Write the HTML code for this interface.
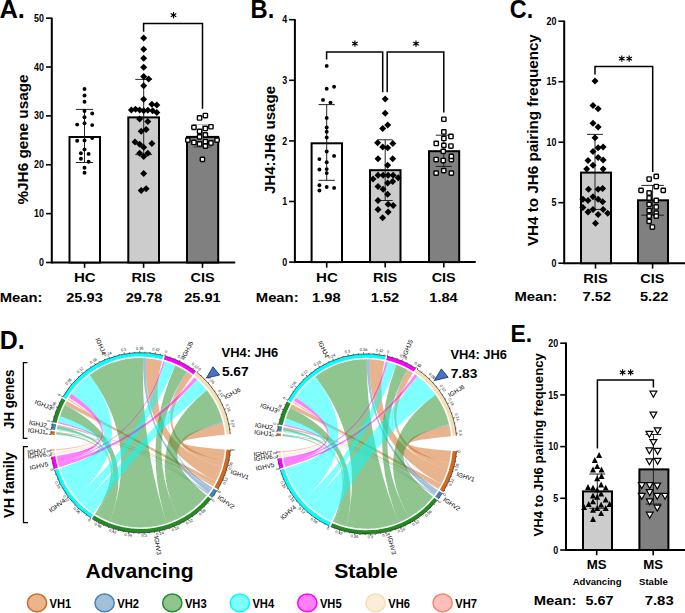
<!DOCTYPE html>
<html><head><meta charset="utf-8"><style>
html,body{margin:0;padding:0;background:#fff;}
svg{display:block;}
text{font-family:"Liberation Sans", sans-serif;font-weight:bold;}
.n{font-weight:normal;}
</style></head><body>
<svg width="685" height="613" viewBox="0 0 685 613">
<rect width="685" height="613" fill="#fff"/>
<text x="-0.60" y="17.80" font-size="25" text-anchor="start" textLength="25.5" lengthAdjust="spacingAndGlyphs">A.</text>
<line x1="51.80" y1="17.60" x2="51.80" y2="263.50" stroke="#000" stroke-width="2.0"/><line x1="46.00" y1="262.50" x2="51.80" y2="262.50" stroke="#000" stroke-width="1.6"/><text x="44.00" y="266.10" font-size="10" text-anchor="end" textLength="4.95" lengthAdjust="spacingAndGlyphs">0</text><line x1="46.00" y1="213.63" x2="51.80" y2="213.63" stroke="#000" stroke-width="1.6"/><text x="44.00" y="217.23" font-size="10" text-anchor="end" textLength="9.9" lengthAdjust="spacingAndGlyphs">10</text><line x1="46.00" y1="164.76" x2="51.80" y2="164.76" stroke="#000" stroke-width="1.6"/><text x="44.00" y="168.36" font-size="10" text-anchor="end" textLength="9.9" lengthAdjust="spacingAndGlyphs">20</text><line x1="46.00" y1="115.89" x2="51.80" y2="115.89" stroke="#000" stroke-width="1.6"/><text x="44.00" y="119.49" font-size="10" text-anchor="end" textLength="9.9" lengthAdjust="spacingAndGlyphs">30</text><line x1="46.00" y1="67.02" x2="51.80" y2="67.02" stroke="#000" stroke-width="1.6"/><text x="44.00" y="70.62" font-size="10" text-anchor="end" textLength="9.9" lengthAdjust="spacingAndGlyphs">40</text><line x1="46.00" y1="18.15" x2="51.80" y2="18.15" stroke="#000" stroke-width="1.6"/><text x="44.00" y="21.75" font-size="10" text-anchor="end" textLength="9.9" lengthAdjust="spacingAndGlyphs">50</text>
<line x1="51.80" y1="262.50" x2="235.20" y2="262.50" stroke="#000" stroke-width="2.0"/>
<line x1="84.60" y1="262.50" x2="84.60" y2="267.80" stroke="#000" stroke-width="1.6"/>
<line x1="143.60" y1="262.50" x2="143.60" y2="267.80" stroke="#000" stroke-width="1.6"/>
<line x1="202.50" y1="262.50" x2="202.50" y2="267.80" stroke="#000" stroke-width="1.6"/>
<text x="27.50" y="139.50" font-size="15" text-anchor="middle" textLength="130" lengthAdjust="spacingAndGlyphs" transform="rotate(-90 27.50 139.50)">%JH6 gene usage</text>
<rect x="69.50" y="137.00" width="30.50" height="125.50" fill="#fff" stroke="#000" stroke-width="2.0"/>
<rect x="128.30" y="117.40" width="30.70" height="145.10" fill="#cccccc" stroke="#000" stroke-width="2.0"/>
<rect x="187.00" y="136.90" width="31.20" height="125.60" fill="#808080" stroke="#000" stroke-width="2.0"/>
<line x1="84.50" y1="109.40" x2="84.50" y2="162.50" stroke="#1a1a1a" stroke-width="0.95"/><line x1="75.90" y1="109.40" x2="93.10" y2="109.40" stroke="#1a1a1a" stroke-width="0.95"/><line x1="75.90" y1="162.50" x2="93.10" y2="162.50" stroke="#1a1a1a" stroke-width="0.95"/>
<circle cx="84.5" cy="89.0" r="1.95"/>
<circle cx="84.5" cy="95.5" r="1.95"/>
<circle cx="84.5" cy="101.7" r="1.95"/>
<circle cx="84.5" cy="111.0" r="1.95"/>
<circle cx="92.2" cy="113.5" r="1.95"/>
<circle cx="84.5" cy="117.3" r="1.95"/>
<circle cx="77.2" cy="124.6" r="1.95"/>
<circle cx="84.5" cy="123.3" r="1.95"/>
<circle cx="92.2" cy="125.1" r="1.95"/>
<circle cx="92.2" cy="138.0" r="1.95"/>
<circle cx="77.2" cy="140.8" r="1.95"/>
<circle cx="84.5" cy="140.5" r="1.95"/>
<circle cx="84.5" cy="149.4" r="1.95"/>
<circle cx="80.9" cy="153.2" r="1.95"/>
<circle cx="88.6" cy="153.9" r="1.95"/>
<circle cx="80.9" cy="158.8" r="1.95"/>
<circle cx="88.6" cy="161.7" r="1.95"/>
<circle cx="84.5" cy="167.7" r="1.95"/>
<circle cx="84.5" cy="172.8" r="1.95"/>
<line x1="143.70" y1="79.40" x2="143.70" y2="154.60" stroke="#1a1a1a" stroke-width="0.95"/><line x1="135.30" y1="79.40" x2="152.10" y2="79.40" stroke="#1a1a1a" stroke-width="0.95"/><line x1="135.30" y1="154.60" x2="152.10" y2="154.60" stroke="#1a1a1a" stroke-width="0.95"/>
<path d="M143.7 34.6L147.2 38.1L143.7 41.6L140.2 38.1Z"/>
<path d="M143.7 45.7L147.2 49.2L143.7 52.7L140.2 49.2Z"/>
<path d="M143.7 54.7L147.2 58.2L143.7 61.7L140.2 58.2Z"/>
<path d="M143.7 63.7L147.2 67.2L143.7 70.7L140.2 67.2Z"/>
<path d="M143.7 73.0L147.2 76.5L143.7 80.0L140.2 76.5Z"/>
<path d="M148.6 75.4L152.1 78.9L148.6 82.4L145.1 78.9Z"/>
<path d="M143.7 82.3L147.2 85.8L143.7 89.3L140.2 85.8Z"/>
<path d="M143.7 95.8L147.2 99.3L143.7 102.8L140.2 99.3Z"/>
<path d="M151.9 100.7L155.4 104.2L151.9 107.7L148.4 104.2Z"/>
<path d="M156.8 101.5L160.3 105.0L156.8 108.5L153.3 105.0Z"/>
<path d="M131.4 106.5L134.9 110.0L131.4 113.5L127.9 110.0Z"/>
<path d="M135.5 105.7L139.0 109.2L135.5 112.7L132.0 109.2Z"/>
<path d="M139.6 106.5L143.1 110.0L139.6 113.5L136.1 110.0Z"/>
<path d="M143.7 107.3L147.2 110.8L143.7 114.3L140.2 110.8Z"/>
<path d="M147.8 106.8L151.3 110.3L147.8 113.8L144.3 110.3Z"/>
<path d="M152.7 107.3L156.2 110.8L152.7 114.3L149.2 110.8Z"/>
<path d="M156.8 108.9L160.3 112.4L156.8 115.9L153.3 112.4Z"/>
<path d="M139.6 115.5L143.1 119.0L139.6 122.5L136.1 119.0Z"/>
<path d="M147.8 117.9L151.3 121.4L147.8 124.9L144.3 121.4Z"/>
<path d="M141.2 127.7L144.7 131.2L141.2 134.7L137.7 131.2Z"/>
<path d="M146.1 126.1L149.6 129.6L146.1 133.1L142.6 129.6Z"/>
<path d="M135.0 138.4L138.5 141.9L135.0 145.4L131.5 141.9Z"/>
<path d="M139.6 140.8L143.1 144.3L139.6 147.8L136.1 144.3Z"/>
<path d="M143.7 143.8L147.2 147.3L143.7 150.8L140.2 147.3Z"/>
<path d="M151.9 140.0L155.4 143.5L151.9 147.0L148.4 143.5Z"/>
<path d="M139.6 149.8L143.1 153.3L139.6 156.8L136.1 153.3Z"/>
<path d="M143.7 153.1L147.2 156.6L143.7 160.1L140.2 156.6Z"/>
<path d="M147.8 149.8L151.3 153.3L147.8 156.8L144.3 153.3Z"/>
<path d="M143.7 169.9L147.2 173.4L143.7 176.9L140.2 173.4Z"/>
<path d="M141.2 186.9L144.7 190.4L141.2 193.9L137.7 190.4Z"/>
<path d="M146.1 185.3L149.6 188.8L146.1 192.3L142.6 188.8Z"/>
<line x1="202.50" y1="124.50" x2="202.50" y2="147.00" stroke="#999" stroke-width="0.9"/><line x1="193.50" y1="124.50" x2="211.50" y2="124.50" stroke="#bbb" stroke-width="0.9"/><line x1="193.50" y1="147.00" x2="211.50" y2="147.00" stroke="#333" stroke-width="0.9"/>
<rect x="197.4" y="115.8" width="4.3" height="4.3" rx="0.7" fill="#fff" stroke="#000" stroke-width="1.4"/>
<rect x="203.2" y="113.4" width="4.3" height="4.3" rx="0.7" fill="#fff" stroke="#000" stroke-width="1.4"/>
<rect x="191.8" y="125.2" width="4.3" height="4.3" rx="0.7" fill="#fff" stroke="#000" stroke-width="1.4"/>
<rect x="203.2" y="126.3" width="4.3" height="4.3" rx="0.7" fill="#fff" stroke="#000" stroke-width="1.4"/>
<rect x="208.8" y="124.6" width="4.3" height="4.3" rx="0.7" fill="#fff" stroke="#000" stroke-width="1.4"/>
<rect x="197.4" y="129.2" width="4.3" height="4.3" rx="0.7" fill="#fff" stroke="#000" stroke-width="1.4"/>
<rect x="197.4" y="134.7" width="4.3" height="4.3" rx="0.7" fill="#fff" stroke="#000" stroke-width="1.4"/>
<rect x="203.2" y="132.7" width="4.3" height="4.3" rx="0.7" fill="#fff" stroke="#000" stroke-width="1.4"/>
<rect x="185.7" y="138.0" width="4.3" height="4.3" rx="0.7" fill="#fff" stroke="#000" stroke-width="1.4"/>
<rect x="191.8" y="140.3" width="4.3" height="4.3" rx="0.7" fill="#fff" stroke="#000" stroke-width="1.4"/>
<rect x="197.4" y="141.8" width="4.3" height="4.3" rx="0.7" fill="#fff" stroke="#000" stroke-width="1.4"/>
<rect x="203.2" y="139.5" width="4.3" height="4.3" rx="0.7" fill="#fff" stroke="#000" stroke-width="1.4"/>
<rect x="203.2" y="144.0" width="4.3" height="4.3" rx="0.7" fill="#fff" stroke="#000" stroke-width="1.4"/>
<rect x="208.8" y="140.8" width="4.3" height="4.3" rx="0.7" fill="#fff" stroke="#000" stroke-width="1.4"/>
<rect x="214.9" y="138.0" width="4.3" height="4.3" rx="0.7" fill="#fff" stroke="#000" stroke-width="1.4"/>
<rect x="200.3" y="157.2" width="4.3" height="4.3" rx="0.7" fill="#fff" stroke="#000" stroke-width="1.4"/>
<path d="M143.6 31.8V23.6H202.5V108.7" fill="none" stroke="#000" stroke-width="1.5"/>
<line x1="173.50" y1="12.00" x2="173.50" y2="18.40" stroke="#000" stroke-width="1.15"/><line x1="170.73" y1="13.60" x2="176.27" y2="16.80" stroke="#000" stroke-width="1.15"/><line x1="176.27" y1="13.60" x2="170.73" y2="16.80" stroke="#000" stroke-width="1.15"/><circle cx="173.50" cy="15.20" r="1.1"/>
<text x="84.80" y="282.20" font-size="13" text-anchor="middle" textLength="21.808999999999997" lengthAdjust="spacingAndGlyphs">HC</text>
<text x="143.60" y="282.20" font-size="13" text-anchor="middle" textLength="24.294999999999998" lengthAdjust="spacingAndGlyphs">RIS</text>
<text x="202.60" y="282.20" font-size="13" text-anchor="middle" textLength="24.069" lengthAdjust="spacingAndGlyphs">CIS</text>
<text x="-0.30" y="302.30" font-size="13.5" text-anchor="start" textLength="42.8" lengthAdjust="spacingAndGlyphs">Mean:</text>
<text x="84.50" y="302.30" font-size="13.5" text-anchor="middle" textLength="36.5" lengthAdjust="spacingAndGlyphs">25.93</text>
<text x="144.00" y="302.30" font-size="13.5" text-anchor="middle" textLength="36.5" lengthAdjust="spacingAndGlyphs">29.78</text>
<text x="202.40" y="302.30" font-size="13.5" text-anchor="middle" textLength="36.5" lengthAdjust="spacingAndGlyphs">25.91</text>
<text x="250.60" y="17.80" font-size="25" text-anchor="start" textLength="23.7" lengthAdjust="spacingAndGlyphs">B.</text>
<line x1="294.90" y1="19.20" x2="294.90" y2="263.10" stroke="#000" stroke-width="2.0"/><line x1="289.10" y1="262.10" x2="294.90" y2="262.10" stroke="#000" stroke-width="1.6"/><text x="287.10" y="265.70" font-size="10" text-anchor="end" textLength="4.95" lengthAdjust="spacingAndGlyphs">0</text><line x1="289.10" y1="201.50" x2="294.90" y2="201.50" stroke="#000" stroke-width="1.6"/><text x="287.10" y="205.10" font-size="10" text-anchor="end" textLength="4.95" lengthAdjust="spacingAndGlyphs">1</text><line x1="289.10" y1="140.90" x2="294.90" y2="140.90" stroke="#000" stroke-width="1.6"/><text x="287.10" y="144.50" font-size="10" text-anchor="end" textLength="4.95" lengthAdjust="spacingAndGlyphs">2</text><line x1="289.10" y1="80.30" x2="294.90" y2="80.30" stroke="#000" stroke-width="1.6"/><text x="287.10" y="83.90" font-size="10" text-anchor="end" textLength="4.95" lengthAdjust="spacingAndGlyphs">3</text><line x1="289.10" y1="19.70" x2="294.90" y2="19.70" stroke="#000" stroke-width="1.6"/><text x="287.10" y="23.30" font-size="10" text-anchor="end" textLength="4.95" lengthAdjust="spacingAndGlyphs">4</text>
<line x1="294.90" y1="262.10" x2="475.70" y2="262.10" stroke="#000" stroke-width="2.0"/>
<line x1="326.70" y1="262.10" x2="326.70" y2="267.60" stroke="#000" stroke-width="1.6"/>
<line x1="385.20" y1="262.10" x2="385.20" y2="267.60" stroke="#000" stroke-width="1.6"/>
<line x1="443.80" y1="262.10" x2="443.80" y2="267.60" stroke="#000" stroke-width="1.6"/>
<text x="275.30" y="140.00" font-size="15" text-anchor="middle" textLength="108.1" lengthAdjust="spacingAndGlyphs" transform="rotate(-90 275.30 140.00)">JH4:JH6 usage</text>
<rect x="311.60" y="143.30" width="30.40" height="118.80" fill="#fff" stroke="#000" stroke-width="2.0"/>
<rect x="370.00" y="170.20" width="30.50" height="91.90" fill="#cccccc" stroke="#000" stroke-width="2.0"/>
<rect x="429.00" y="151.20" width="30.20" height="110.90" fill="#808080" stroke="#000" stroke-width="2.0"/>
<line x1="326.70" y1="104.60" x2="326.70" y2="180.30" stroke="#1a1a1a" stroke-width="0.95"/><line x1="318.50" y1="104.60" x2="334.90" y2="104.60" stroke="#1a1a1a" stroke-width="0.95"/><line x1="318.50" y1="180.30" x2="334.90" y2="180.30" stroke="#1a1a1a" stroke-width="0.95"/>
<circle cx="326.7" cy="65.9" r="1.95"/>
<circle cx="326.7" cy="88.8" r="1.95"/>
<circle cx="334.1" cy="86.7" r="1.95"/>
<circle cx="323.0" cy="99.9" r="1.95"/>
<circle cx="330.5" cy="102.6" r="1.95"/>
<circle cx="326.7" cy="117.9" r="1.95"/>
<circle cx="326.7" cy="127.5" r="1.95"/>
<circle cx="326.7" cy="131.7" r="1.95"/>
<circle cx="326.7" cy="137.5" r="1.95"/>
<circle cx="326.7" cy="151.5" r="1.95"/>
<circle cx="334.1" cy="155.9" r="1.95"/>
<circle cx="319.4" cy="159.1" r="1.95"/>
<circle cx="326.7" cy="162.3" r="1.95"/>
<circle cx="319.4" cy="169.5" r="1.95"/>
<circle cx="326.7" cy="169.1" r="1.95"/>
<circle cx="326.7" cy="173.1" r="1.95"/>
<circle cx="319.4" cy="185.3" r="1.95"/>
<circle cx="319.4" cy="190.5" r="1.95"/>
<circle cx="326.7" cy="187.0" r="1.95"/>
<circle cx="334.1" cy="187.9" r="1.95"/>
<line x1="385.20" y1="139.80" x2="385.20" y2="200.50" stroke="#1a1a1a" stroke-width="0.95"/><line x1="377.70" y1="139.80" x2="392.70" y2="139.80" stroke="#1a1a1a" stroke-width="0.95"/><line x1="377.70" y1="200.50" x2="392.70" y2="200.50" stroke="#1a1a1a" stroke-width="0.95"/>
<path d="M385.2 95.6L388.7 99.1L385.2 102.6L381.7 99.1Z"/>
<path d="M385.2 109.7L388.7 113.2L385.2 116.7L381.7 113.2Z"/>
<path d="M382.7 124.9L386.2 128.4L382.7 131.9L379.2 128.4Z"/>
<path d="M387.7 121.6L391.2 125.1L387.7 128.6L384.2 125.1Z"/>
<path d="M377.6 139.3L381.1 142.8L377.6 146.3L374.1 142.8Z"/>
<path d="M382.7 143.6L386.2 147.1L382.7 150.6L379.2 147.1Z"/>
<path d="M387.7 144.3L391.2 147.8L387.7 151.3L384.2 147.8Z"/>
<path d="M392.8 140.0L396.3 143.5L392.8 147.0L389.3 143.5Z"/>
<path d="M378.0 155.3L381.5 158.8L378.0 162.3L374.5 158.8Z"/>
<path d="M392.7 155.3L396.2 158.8L392.7 162.3L389.2 158.8Z"/>
<path d="M387.6 161.7L391.1 165.2L387.6 168.7L384.1 165.2Z"/>
<path d="M373.0 175.6L376.5 179.1L373.0 182.6L369.5 179.1Z"/>
<path d="M378.0 171.8L381.5 175.3L378.0 178.8L374.5 175.3Z"/>
<path d="M383.1 171.8L386.6 175.3L383.1 178.8L379.6 175.3Z"/>
<path d="M388.1 171.8L391.6 175.3L388.1 178.8L384.6 175.3Z"/>
<path d="M393.2 171.8L396.7 175.3L393.2 178.8L389.7 175.3Z"/>
<path d="M398.2 174.3L401.7 177.8L398.2 181.3L394.7 177.8Z"/>
<path d="M378.0 183.1L381.5 186.6L378.0 190.1L374.5 186.6Z"/>
<path d="M387.6 179.4L391.1 182.9L387.6 186.4L384.1 182.9Z"/>
<path d="M392.7 178.1L396.2 181.6L392.7 185.1L389.2 181.6Z"/>
<path d="M383.1 185.7L386.6 189.2L383.1 192.7L379.6 189.2Z"/>
<path d="M387.6 190.7L391.1 194.2L387.6 197.7L384.1 194.2Z"/>
<path d="M378.0 197.0L381.5 200.5L378.0 204.0L374.5 200.5Z"/>
<path d="M388.1 200.8L391.6 204.3L388.1 207.8L384.6 204.3Z"/>
<path d="M393.2 202.1L396.7 205.6L393.2 209.1L389.7 205.6Z"/>
<path d="M378.0 205.9L381.5 209.4L378.0 212.9L374.5 209.4Z"/>
<path d="M388.1 208.4L391.6 211.9L388.1 215.4L384.6 211.9Z"/>
<path d="M382.6 214.2L386.1 217.7L382.6 221.2L379.1 217.7Z"/>
<line x1="443.80" y1="135.20" x2="443.80" y2="166.40" stroke="#1a1a1a" stroke-width="0.95"/><line x1="435.80" y1="135.20" x2="451.80" y2="135.20" stroke="#1a1a1a" stroke-width="0.95"/><line x1="435.80" y1="166.40" x2="451.80" y2="166.40" stroke="#1a1a1a" stroke-width="0.95"/>
<rect x="441.7" y="117.1" width="4.3" height="4.3" rx="0.7" fill="#fff" stroke="#000" stroke-width="1.4"/>
<rect x="441.7" y="129.8" width="4.3" height="4.3" rx="0.7" fill="#fff" stroke="#000" stroke-width="1.4"/>
<rect x="448.8" y="134.3" width="4.3" height="4.3" rx="0.7" fill="#fff" stroke="#000" stroke-width="1.4"/>
<rect x="441.7" y="136.3" width="4.3" height="4.3" rx="0.7" fill="#fff" stroke="#000" stroke-width="1.4"/>
<rect x="434.1" y="141.3" width="4.3" height="4.3" rx="0.7" fill="#fff" stroke="#000" stroke-width="1.4"/>
<rect x="441.7" y="143.2" width="4.3" height="4.3" rx="0.7" fill="#fff" stroke="#000" stroke-width="1.4"/>
<rect x="448.8" y="143.9" width="4.3" height="4.3" rx="0.7" fill="#fff" stroke="#000" stroke-width="1.4"/>
<rect x="434.0" y="157.4" width="4.3" height="4.3" rx="0.7" fill="#fff" stroke="#000" stroke-width="1.4"/>
<rect x="441.1" y="158.4" width="4.3" height="4.3" rx="0.7" fill="#fff" stroke="#000" stroke-width="1.4"/>
<rect x="449.2" y="157.4" width="4.3" height="4.3" rx="0.7" fill="#fff" stroke="#000" stroke-width="1.4"/>
<rect x="449.2" y="154.2" width="4.3" height="4.3" rx="0.7" fill="#fff" stroke="#000" stroke-width="1.4"/>
<rect x="441.1" y="149.2" width="4.3" height="4.3" rx="0.7" fill="#fff" stroke="#000" stroke-width="1.4"/>
<rect x="434.0" y="171.0" width="4.3" height="4.3" rx="0.7" fill="#fff" stroke="#000" stroke-width="1.4"/>
<rect x="441.6" y="168.5" width="4.3" height="4.3" rx="0.7" fill="#fff" stroke="#000" stroke-width="1.4"/>
<rect x="449.2" y="171.0" width="4.3" height="4.3" rx="0.7" fill="#fff" stroke="#000" stroke-width="1.4"/>
<path d="M326.6 59.4V51.9H382.7V92.2" fill="none" stroke="#000" stroke-width="1.5"/>
<path d="M387.2 92.2V51.9H443.8V112.5" fill="none" stroke="#000" stroke-width="1.5"/>
<line x1="354.90" y1="40.40" x2="354.90" y2="46.80" stroke="#000" stroke-width="1.15"/><line x1="352.13" y1="42.00" x2="357.67" y2="45.20" stroke="#000" stroke-width="1.15"/><line x1="357.67" y1="42.00" x2="352.13" y2="45.20" stroke="#000" stroke-width="1.15"/><circle cx="354.90" cy="43.60" r="1.1"/>
<line x1="416.00" y1="40.40" x2="416.00" y2="46.80" stroke="#000" stroke-width="1.15"/><line x1="413.23" y1="42.00" x2="418.77" y2="45.20" stroke="#000" stroke-width="1.15"/><line x1="418.77" y1="42.00" x2="413.23" y2="45.20" stroke="#000" stroke-width="1.15"/><circle cx="416.00" cy="43.60" r="1.1"/>
<text x="327.00" y="281.60" font-size="13" text-anchor="middle" textLength="21.808999999999997" lengthAdjust="spacingAndGlyphs">HC</text>
<text x="385.10" y="281.60" font-size="13" text-anchor="middle" textLength="24.294999999999998" lengthAdjust="spacingAndGlyphs">RIS</text>
<text x="443.70" y="281.60" font-size="13" text-anchor="middle" textLength="24.069" lengthAdjust="spacingAndGlyphs">CIS</text>
<text x="255.80" y="302.30" font-size="13.5" text-anchor="start" textLength="42.8" lengthAdjust="spacingAndGlyphs">Mean:</text>
<text x="326.30" y="302.30" font-size="13.5" text-anchor="middle" textLength="28.5" lengthAdjust="spacingAndGlyphs">1.98</text>
<text x="385.00" y="302.30" font-size="13.5" text-anchor="middle" textLength="28.5" lengthAdjust="spacingAndGlyphs">1.52</text>
<text x="443.50" y="302.30" font-size="13.5" text-anchor="middle" textLength="28.5" lengthAdjust="spacingAndGlyphs">1.84</text>
<text x="509.80" y="17.80" font-size="25" text-anchor="start" textLength="23.4" lengthAdjust="spacingAndGlyphs">C.</text>
<line x1="564.20" y1="20.60" x2="564.20" y2="264.20" stroke="#000" stroke-width="2.0"/><line x1="558.40" y1="263.20" x2="564.20" y2="263.20" stroke="#000" stroke-width="1.6"/><text x="556.40" y="266.80" font-size="10" text-anchor="end" textLength="4.95" lengthAdjust="spacingAndGlyphs">0</text><line x1="558.40" y1="202.70" x2="564.20" y2="202.70" stroke="#000" stroke-width="1.6"/><text x="556.40" y="206.30" font-size="10" text-anchor="end" textLength="4.95" lengthAdjust="spacingAndGlyphs">5</text><line x1="558.40" y1="142.20" x2="564.20" y2="142.20" stroke="#000" stroke-width="1.6"/><text x="556.40" y="145.80" font-size="10" text-anchor="end" textLength="9.9" lengthAdjust="spacingAndGlyphs">10</text><line x1="558.40" y1="81.70" x2="564.20" y2="81.70" stroke="#000" stroke-width="1.6"/><text x="556.40" y="85.30" font-size="10" text-anchor="end" textLength="9.9" lengthAdjust="spacingAndGlyphs">15</text><line x1="558.40" y1="21.20" x2="564.20" y2="21.20" stroke="#000" stroke-width="1.6"/><text x="556.40" y="24.80" font-size="10" text-anchor="end" textLength="9.9" lengthAdjust="spacingAndGlyphs">20</text>
<line x1="564.20" y1="263.20" x2="685.00" y2="263.20" stroke="#000" stroke-width="2.0"/>
<line x1="595.50" y1="263.20" x2="595.50" y2="268.60" stroke="#000" stroke-width="1.6"/>
<line x1="652.60" y1="263.20" x2="652.60" y2="268.60" stroke="#000" stroke-width="1.6"/>
<text x="538.00" y="140.10" font-size="15" text-anchor="middle" textLength="211.8" lengthAdjust="spacingAndGlyphs" transform="rotate(-90 538.00 140.10)">VH4 to JH6 pairing frequency</text>
<rect x="581.00" y="172.60" width="30.00" height="90.60" fill="#cccccc" stroke="#000" stroke-width="2.0"/>
<rect x="638.00" y="200.30" width="30.00" height="62.90" fill="#808080" stroke="#000" stroke-width="2.0"/>
<line x1="595.00" y1="134.40" x2="595.00" y2="209.40" stroke="#1a1a1a" stroke-width="0.95"/><line x1="587.00" y1="134.40" x2="603.00" y2="134.40" stroke="#1a1a1a" stroke-width="0.95"/><line x1="587.00" y1="209.40" x2="603.00" y2="209.40" stroke="#1a1a1a" stroke-width="0.95"/>
<path d="M595.0 77.4L598.5 80.9L595.0 84.4L591.5 80.9Z"/>
<path d="M593.0 102.1L596.5 105.6L593.0 109.1L589.5 105.6Z"/>
<path d="M598.1 105.2L601.6 108.7L598.1 112.2L594.6 108.7Z"/>
<path d="M593.0 119.8L596.5 123.3L593.0 126.8L589.5 123.3Z"/>
<path d="M598.1 123.6L601.6 127.1L598.1 130.6L594.6 127.1Z"/>
<path d="M595.0 134.2L598.5 137.7L595.0 141.2L591.5 137.7Z"/>
<path d="M598.1 144.3L601.6 147.8L598.1 151.3L594.6 147.8Z"/>
<path d="M603.1 143.6L606.6 147.1L603.1 150.6L599.6 147.1Z"/>
<path d="M593.0 148.1L596.5 151.6L593.0 155.1L589.5 151.6Z"/>
<path d="M588.0 157.1L591.5 160.6L588.0 164.1L584.5 160.6Z"/>
<path d="M598.1 154.1L601.6 157.6L598.1 161.1L594.6 157.6Z"/>
<path d="M603.1 156.6L606.6 160.1L603.1 163.6L599.6 160.1Z"/>
<path d="M586.7 165.5L590.2 169.0L586.7 172.5L583.2 169.0Z"/>
<path d="M593.0 161.7L596.5 165.2L593.0 168.7L589.5 165.2Z"/>
<path d="M603.1 165.5L606.6 169.0L603.1 172.5L599.6 169.0Z"/>
<path d="M588.5 185.7L592.0 189.2L588.5 192.7L585.0 189.2Z"/>
<path d="M598.1 185.7L601.6 189.2L598.1 192.7L594.6 189.2Z"/>
<path d="M602.6 184.9L606.1 188.4L602.6 191.9L599.1 188.4Z"/>
<path d="M582.9 195.8L586.4 199.3L582.9 202.8L579.4 199.3Z"/>
<path d="M588.0 197.0L591.5 200.5L588.0 204.0L584.5 200.5Z"/>
<path d="M593.0 193.3L596.5 196.8L593.0 200.3L589.5 196.8Z"/>
<path d="M598.1 195.8L601.6 199.3L598.1 202.8L594.6 199.3Z"/>
<path d="M602.6 198.3L606.1 201.8L602.6 205.3L599.1 201.8Z"/>
<path d="M582.9 204.1L586.4 207.6L582.9 211.1L579.4 207.6Z"/>
<path d="M588.0 208.4L591.5 211.9L588.0 215.4L584.5 211.9Z"/>
<path d="M593.0 205.9L596.5 209.4L593.0 212.9L589.5 209.4Z"/>
<path d="M598.1 210.9L601.6 214.4L598.1 217.9L594.6 214.4Z"/>
<path d="M603.1 205.9L606.6 209.4L603.1 212.9L599.6 209.4Z"/>
<path d="M607.7 209.7L611.2 213.2L607.7 216.7L604.2 213.2Z"/>
<path d="M595.5 219.8L599.0 223.3L595.5 226.8L592.0 223.3Z"/>
<line x1="652.60" y1="185.40" x2="652.60" y2="215.20" stroke="#1a1a1a" stroke-width="0.95"/><line x1="641.30" y1="185.40" x2="663.90" y2="185.40" stroke="#1a1a1a" stroke-width="0.95"/><line x1="641.30" y1="215.20" x2="663.90" y2="215.20" stroke="#1a1a1a" stroke-width="0.95"/>
<rect x="654.1" y="174.3" width="4.3" height="4.3" rx="0.7" fill="#fff" stroke="#000" stroke-width="1.4"/>
<rect x="647.0" y="176.9" width="4.3" height="4.3" rx="0.7" fill="#fff" stroke="#000" stroke-width="1.4"/>
<rect x="638.9" y="188.2" width="4.3" height="4.3" rx="0.7" fill="#fff" stroke="#000" stroke-width="1.4"/>
<rect x="647.0" y="190.8" width="4.3" height="4.3" rx="0.7" fill="#fff" stroke="#000" stroke-width="1.4"/>
<rect x="654.1" y="184.4" width="4.3" height="4.3" rx="0.7" fill="#fff" stroke="#000" stroke-width="1.4"/>
<rect x="661.1" y="188.2" width="4.3" height="4.3" rx="0.7" fill="#fff" stroke="#000" stroke-width="1.4"/>
<rect x="647.0" y="195.8" width="4.3" height="4.3" rx="0.7" fill="#fff" stroke="#000" stroke-width="1.4"/>
<rect x="654.1" y="198.3" width="4.3" height="4.3" rx="0.7" fill="#fff" stroke="#000" stroke-width="1.4"/>
<rect x="647.0" y="202.2" width="4.3" height="4.3" rx="0.7" fill="#fff" stroke="#000" stroke-width="1.4"/>
<rect x="654.1" y="204.8" width="4.3" height="4.3" rx="0.7" fill="#fff" stroke="#000" stroke-width="1.4"/>
<rect x="647.0" y="208.5" width="4.3" height="4.3" rx="0.7" fill="#fff" stroke="#000" stroke-width="1.4"/>
<rect x="654.1" y="211.0" width="4.3" height="4.3" rx="0.7" fill="#fff" stroke="#000" stroke-width="1.4"/>
<rect x="647.0" y="214.0" width="4.3" height="4.3" rx="0.7" fill="#fff" stroke="#000" stroke-width="1.4"/>
<rect x="654.1" y="214.0" width="4.3" height="4.3" rx="0.7" fill="#fff" stroke="#000" stroke-width="1.4"/>
<rect x="647.0" y="219.2" width="4.3" height="4.3" rx="0.7" fill="#fff" stroke="#000" stroke-width="1.4"/>
<rect x="650.2" y="224.9" width="4.3" height="4.3" rx="0.7" fill="#fff" stroke="#000" stroke-width="1.4"/>
<path d="M595.0 74.5V66.6H652.7V172" fill="none" stroke="#000" stroke-width="1.5"/>
<line x1="621.80" y1="55.40" x2="621.80" y2="61.80" stroke="#000" stroke-width="1.15"/><line x1="619.03" y1="57.00" x2="624.57" y2="60.20" stroke="#000" stroke-width="1.15"/><line x1="624.57" y1="57.00" x2="619.03" y2="60.20" stroke="#000" stroke-width="1.15"/><circle cx="621.80" cy="58.60" r="1.1"/>
<line x1="629.20" y1="55.40" x2="629.20" y2="61.80" stroke="#000" stroke-width="1.15"/><line x1="626.43" y1="57.00" x2="631.97" y2="60.20" stroke="#000" stroke-width="1.15"/><line x1="631.97" y1="57.00" x2="626.43" y2="60.20" stroke="#000" stroke-width="1.15"/><circle cx="629.20" cy="58.60" r="1.1"/>
<text x="595.50" y="282.60" font-size="13" text-anchor="middle" textLength="24.294999999999998" lengthAdjust="spacingAndGlyphs">RIS</text>
<text x="652.40" y="282.60" font-size="13" text-anchor="middle" textLength="24.069" lengthAdjust="spacingAndGlyphs">CIS</text>
<text x="514.40" y="300.60" font-size="13.5" text-anchor="start" textLength="42.7" lengthAdjust="spacingAndGlyphs">Mean:</text>
<text x="596.80" y="300.60" font-size="13.5" text-anchor="middle" textLength="28.5" lengthAdjust="spacingAndGlyphs">7.52</text>
<text x="654.20" y="300.60" font-size="13.5" text-anchor="middle" textLength="28.5" lengthAdjust="spacingAndGlyphs">5.22</text>
<text x="510.40" y="342.00" font-size="24.5" text-anchor="start" textLength="21.6" lengthAdjust="spacingAndGlyphs">E.</text>
<line x1="566.00" y1="342.60" x2="566.00" y2="551.00" stroke="#000" stroke-width="2.0"/><line x1="560.20" y1="550.00" x2="566.00" y2="550.00" stroke="#000" stroke-width="1.6"/><text x="558.20" y="553.60" font-size="10" text-anchor="end" textLength="4.95" lengthAdjust="spacingAndGlyphs">0</text><line x1="560.20" y1="498.30" x2="566.00" y2="498.30" stroke="#000" stroke-width="1.6"/><text x="558.20" y="501.90" font-size="10" text-anchor="end" textLength="4.95" lengthAdjust="spacingAndGlyphs">5</text><line x1="560.20" y1="446.60" x2="566.00" y2="446.60" stroke="#000" stroke-width="1.6"/><text x="558.20" y="450.20" font-size="10" text-anchor="end" textLength="9.9" lengthAdjust="spacingAndGlyphs">10</text><line x1="560.20" y1="394.90" x2="566.00" y2="394.90" stroke="#000" stroke-width="1.6"/><text x="558.20" y="398.50" font-size="10" text-anchor="end" textLength="9.9" lengthAdjust="spacingAndGlyphs">15</text><line x1="560.20" y1="343.20" x2="566.00" y2="343.20" stroke="#000" stroke-width="1.6"/><text x="558.20" y="346.80" font-size="10" text-anchor="end" textLength="9.9" lengthAdjust="spacingAndGlyphs">20</text>
<line x1="566.00" y1="550.00" x2="685.00" y2="550.00" stroke="#000" stroke-width="2.0"/>
<line x1="596.70" y1="550.00" x2="596.70" y2="555.20" stroke="#000" stroke-width="1.6"/>
<line x1="653.20" y1="550.00" x2="653.20" y2="555.20" stroke="#000" stroke-width="1.6"/>
<text x="543.00" y="444.80" font-size="12.5" text-anchor="middle" textLength="183.2" lengthAdjust="spacingAndGlyphs" transform="rotate(-90 543.00 444.80)">VH4 to JH6 pairing frequency</text>
<rect x="583.00" y="491.40" width="29.00" height="58.60" fill="#cccccc" stroke="#000" stroke-width="2.0"/>
<rect x="639.40" y="469.40" width="29.00" height="80.60" fill="#808080" stroke="#000" stroke-width="2.0"/>
<line x1="597.30" y1="474.00" x2="597.30" y2="508.30" stroke="#1a1a1a" stroke-width="0.95"/><line x1="589.30" y1="474.00" x2="605.30" y2="474.00" stroke="#1a1a1a" stroke-width="0.95"/><line x1="589.30" y1="508.30" x2="605.30" y2="508.30" stroke="#1a1a1a" stroke-width="0.95"/>
<path d="M599.1 452.1L602.1 458.0L596.1 458.0Z"/>
<path d="M594.8 457.1L597.8 463.0L591.8 463.0Z"/>
<path d="M597.2 463.2L600.2 469.1L594.2 469.1Z"/>
<path d="M593.0 466.5L596.0 472.4L590.0 472.4Z"/>
<path d="M601.5 466.5L604.5 472.4L598.5 472.4Z"/>
<path d="M601.5 473.0L604.5 478.9L598.5 478.9Z"/>
<path d="M597.2 475.4L600.2 481.3L594.2 481.3Z"/>
<path d="M588.0 484.1L591.0 490.0L585.0 490.0Z"/>
<path d="M593.0 484.7L596.0 490.6L590.0 490.6Z"/>
<path d="M601.1 481.5L604.1 487.4L598.1 487.4Z"/>
<path d="M605.7 484.7L608.7 490.6L602.7 490.6Z"/>
<path d="M597.2 486.7L600.2 492.6L594.2 492.6Z"/>
<path d="M593.0 492.6L596.0 498.5L590.0 498.5Z"/>
<path d="M601.1 490.6L604.1 496.5L598.1 496.5Z"/>
<path d="M597.2 493.9L600.2 499.8L594.2 499.8Z"/>
<path d="M605.7 496.5L608.7 502.4L602.7 502.4Z"/>
<path d="M593.0 498.4L596.0 504.3L590.0 504.3Z"/>
<path d="M588.7 501.0L591.7 506.9L585.7 506.9Z"/>
<path d="M584.1 504.0L587.1 509.9L581.1 509.9Z"/>
<path d="M601.1 501.7L604.1 507.6L598.1 507.6Z"/>
<path d="M609.6 501.0L612.6 506.9L606.6 506.9Z"/>
<path d="M597.2 505.0L600.2 510.9L594.2 510.9Z"/>
<path d="M605.7 505.0L608.7 510.9L602.7 510.9Z"/>
<path d="M593.0 506.9L596.0 512.8L590.0 512.8Z"/>
<path d="M601.1 510.2L604.1 516.1L598.1 516.1Z"/>
<path d="M593.0 516.0L596.0 521.9L590.0 521.9Z"/>
<line x1="653.40" y1="434.50" x2="653.40" y2="504.00" stroke="#1a1a1a" stroke-width="0.95"/><line x1="645.60" y1="434.50" x2="661.20" y2="434.50" stroke="#1a1a1a" stroke-width="0.95"/><line x1="645.60" y1="504.00" x2="661.20" y2="504.00" stroke="#1a1a1a" stroke-width="0.95"/>
<path d="M653.4 397.2L656.8 391.2L650.0 391.2Z" fill="#fff" stroke="#000" stroke-width="1.2"/>
<path d="M653.4 418.1L656.8 412.1L650.0 412.1Z" fill="#fff" stroke="#000" stroke-width="1.2"/>
<path d="M649.4 437.3L652.8 431.3L646.0 431.3Z" fill="#fff" stroke="#000" stroke-width="1.2"/>
<path d="M657.6 433.7L661.0 427.8L654.2 427.8Z" fill="#fff" stroke="#000" stroke-width="1.2"/>
<path d="M653.4 445.5L656.8 439.6L650.0 439.6Z" fill="#fff" stroke="#000" stroke-width="1.2"/>
<path d="M649.4 453.7L652.8 447.8L646.0 447.8Z" fill="#fff" stroke="#000" stroke-width="1.2"/>
<path d="M657.6 454.3L661.0 448.3L654.2 448.3Z" fill="#fff" stroke="#000" stroke-width="1.2"/>
<path d="M649.4 464.7L652.8 458.8L646.0 458.8Z" fill="#fff" stroke="#000" stroke-width="1.2"/>
<path d="M657.6 464.3L661.0 458.3L654.2 458.3Z" fill="#fff" stroke="#000" stroke-width="1.2"/>
<path d="M641.8 488.5L645.2 482.6L638.4 482.6Z" fill="#fff" stroke="#000" stroke-width="1.2"/>
<path d="M649.7 488.5L653.1 482.6L646.3 482.6Z" fill="#fff" stroke="#000" stroke-width="1.2"/>
<path d="M657.3 489.1L660.7 483.1L653.9 483.1Z" fill="#fff" stroke="#000" stroke-width="1.2"/>
<path d="M641.8 499.3L645.2 493.3L638.4 493.3Z" fill="#fff" stroke="#000" stroke-width="1.2"/>
<path d="M649.7 495.6L653.1 489.6L646.3 489.6Z" fill="#fff" stroke="#000" stroke-width="1.2"/>
<path d="M657.3 499.3L660.7 493.3L653.9 493.3Z" fill="#fff" stroke="#000" stroke-width="1.2"/>
<path d="M665.0 499.3L668.4 493.3L661.6 493.3Z" fill="#fff" stroke="#000" stroke-width="1.2"/>
<path d="M649.7 504.9L653.1 498.9L646.3 498.9Z" fill="#fff" stroke="#000" stroke-width="1.2"/>
<path d="M657.3 511.1L660.7 505.1L653.9 505.1Z" fill="#fff" stroke="#000" stroke-width="1.2"/>
<path d="M649.7 518.2L653.1 512.2L646.3 512.2Z" fill="#fff" stroke="#000" stroke-width="1.2"/>
<path d="M597.4 448.5V380.1H653.4V387.4" fill="none" stroke="#000" stroke-width="1.5"/>
<line x1="622.60" y1="369.20" x2="622.60" y2="375.60" stroke="#000" stroke-width="1.15"/><line x1="619.83" y1="370.80" x2="625.37" y2="374.00" stroke="#000" stroke-width="1.15"/><line x1="625.37" y1="370.80" x2="619.83" y2="374.00" stroke="#000" stroke-width="1.15"/><circle cx="622.60" cy="372.40" r="1.1"/>
<line x1="630.60" y1="369.20" x2="630.60" y2="375.60" stroke="#000" stroke-width="1.15"/><line x1="627.83" y1="370.80" x2="633.37" y2="374.00" stroke="#000" stroke-width="1.15"/><line x1="633.37" y1="370.80" x2="627.83" y2="374.00" stroke="#000" stroke-width="1.15"/><circle cx="630.60" cy="372.40" r="1.1"/>
<text x="596.70" y="569.40" font-size="13" text-anchor="middle" textLength="19.8" lengthAdjust="spacingAndGlyphs">MS</text>
<text x="653.20" y="569.40" font-size="13" text-anchor="middle" textLength="19.8" lengthAdjust="spacingAndGlyphs">MS</text>
<text x="597.10" y="585.40" font-size="9.5" text-anchor="middle" textLength="48.8" lengthAdjust="spacingAndGlyphs">Advancing</text>
<text x="653.40" y="585.40" font-size="9.5" text-anchor="middle" textLength="28.8" lengthAdjust="spacingAndGlyphs">Stable</text>
<text x="533.80" y="604.80" font-size="13.5" text-anchor="start" textLength="42.6" lengthAdjust="spacingAndGlyphs">Mean:</text>
<text x="599.50" y="604.80" font-size="13.5" text-anchor="middle" textLength="28.0" lengthAdjust="spacingAndGlyphs">5.67</text>
<text x="659.20" y="604.80" font-size="13.5" text-anchor="middle" textLength="29.0" lengthAdjust="spacingAndGlyphs">7.83</text>
<text x="-0.3" y="349.0" font-size="25" textLength="24.9" lengthAdjust="spacingAndGlyphs">D.</text>
<path d="M27.4 362.6H23.4V438.4H27.4" fill="none" stroke="#000" stroke-width="1.3"/>
<path d="M28.0 446.6H23.5V522.6H28.0" fill="none" stroke="#000" stroke-width="1.3"/>
<text x="14.3" y="399.3" font-size="14.5" text-anchor="middle" textLength="59.3" lengthAdjust="spacingAndGlyphs" transform="rotate(-90 14.3 399.3)">JH genes</text>
<text x="14.0" y="485.1" font-size="14.5" text-anchor="middle" textLength="65.8" lengthAdjust="spacingAndGlyphs" transform="rotate(-90 14.0 485.1)">VH family</text>
<path d="M56.43 432.38A84.7 84.7 0 0 1 56.52 431.64Q140.50 442.70 213.47 485.70A84.7 84.7 0 0 1 213.10 486.32Q140.50 442.70 56.43 432.38Z" fill="#d2691e" fill-opacity="0.5"/>
<path d="M57.51 425.78A84.7 84.7 0 0 1 57.74 424.66Q140.50 442.70 213.99 484.82A84.7 84.7 0 0 1 213.47 485.70Q140.50 442.70 57.51 425.78Z" fill="#d2691e" fill-opacity="0.5"/>
<path d="M64.93 404.45A84.7 84.7 0 0 1 66.78 400.99Q140.50 442.70 215.86 481.36A84.7 84.7 0 0 1 213.99 484.82Q140.50 442.70 64.93 404.45Z" fill="#d2691e" fill-opacity="0.5"/>
<path d="M146.41 358.21A84.7 84.7 0 0 1 161.99 360.77Q140.50 442.70 221.66 466.92A84.7 84.7 0 0 1 215.86 481.36Q140.50 442.70 146.41 358.21Z" fill="#d2691e" fill-opacity="0.5"/>
<path d="M187.25 372.07A84.7 84.7 0 0 1 192.41 375.77Q140.50 442.70 223.23 460.86A84.7 84.7 0 0 1 221.66 466.92Q140.50 442.70 187.25 372.07Z" fill="#d2691e" fill-opacity="0.5"/>
<path d="M222.93 423.21A84.7 84.7 0 0 1 224.82 434.73Q140.50 442.70 224.93 449.49A84.7 84.7 0 0 1 223.23 460.86Q140.50 442.70 222.93 423.21Z" fill="#d2691e" fill-opacity="0.5"/>
<path d="M56.40 432.67A84.7 84.7 0 0 1 56.43 432.38Q140.50 442.70 207.91 493.98A84.7 84.7 0 0 1 207.70 494.26Q140.50 442.70 56.40 432.67Z" fill="#4682b4" fill-opacity="0.5"/>
<path d="M57.41 426.27A84.7 84.7 0 0 1 57.51 425.78Q140.50 442.70 208.23 493.56A84.7 84.7 0 0 1 207.91 493.98Q140.50 442.70 57.41 426.27Z" fill="#4682b4" fill-opacity="0.5"/>
<path d="M64.61 405.10A84.7 84.7 0 0 1 64.93 404.45Q140.50 442.70 208.76 492.85A84.7 84.7 0 0 1 208.23 493.56Q140.50 442.70 64.61 405.10Z" fill="#4682b4" fill-opacity="0.5"/>
<path d="M143.16 358.04A84.7 84.7 0 0 1 146.41 358.21Q140.50 442.70 210.99 489.66A84.7 84.7 0 0 1 208.76 492.85Q140.50 442.70 143.16 358.04Z" fill="#4682b4" fill-opacity="0.5"/>
<path d="M186.51 371.58A84.7 84.7 0 0 1 187.25 372.07Q140.50 442.70 211.57 488.78A84.7 84.7 0 0 1 210.99 489.66Q140.50 442.70 186.51 371.58Z" fill="#4682b4" fill-opacity="0.5"/>
<path d="M222.65 422.07A84.7 84.7 0 0 1 222.93 423.21Q140.50 442.70 212.33 487.58A84.7 84.7 0 0 1 211.57 488.78Q140.50 442.70 222.65 422.07Z" fill="#4682b4" fill-opacity="0.5"/>
<path d="M56.23 434.14A84.7 84.7 0 0 1 56.40 432.67Q140.50 442.70 96.27 514.93A84.7 84.7 0 0 1 94.99 514.14Q140.50 442.70 56.23 434.14Z" fill="#228b22" fill-opacity="0.5"/>
<path d="M56.97 428.70A84.7 84.7 0 0 1 57.41 426.27Q140.50 442.70 98.22 516.09A84.7 84.7 0 0 1 96.27 514.93Q140.50 442.70 56.97 428.70Z" fill="#228b22" fill-opacity="0.5"/>
<path d="M60.04 416.23A84.7 84.7 0 0 1 64.61 405.10Q140.50 442.70 109.49 521.52A84.7 84.7 0 0 1 98.22 516.09Q140.50 442.70 60.04 416.23Z" fill="#228b22" fill-opacity="0.5"/>
<path d="M89.64 374.97A84.7 84.7 0 0 1 143.16 358.04Q140.50 442.70 166.71 523.24A84.7 84.7 0 0 1 109.49 521.52Q140.50 442.70 89.64 374.97Z" fill="#228b22" fill-opacity="0.5"/>
<path d="M175.36 365.50A84.7 84.7 0 0 1 186.51 371.58Q140.50 442.70 178.69 518.30A84.7 84.7 0 0 1 166.71 523.24Q140.50 442.70 175.36 365.50Z" fill="#228b22" fill-opacity="0.5"/>
<path d="M206.97 390.20A84.7 84.7 0 0 1 222.65 422.07Q140.50 442.70 206.79 495.43A84.7 84.7 0 0 1 178.69 518.30Q140.50 442.70 206.97 390.20Z" fill="#228b22" fill-opacity="0.5"/>
<path d="M56.15 435.02A84.7 84.7 0 0 1 56.23 434.14Q140.50 442.70 59.98 468.97A84.7 84.7 0 0 1 59.72 468.17Q140.50 442.70 56.15 435.02Z" fill="#00ffff" fill-opacity="0.5"/>
<path d="M56.71 430.33A84.7 84.7 0 0 1 56.97 428.70Q140.50 442.70 60.43 470.31A84.7 84.7 0 0 1 59.98 468.97Q140.50 442.70 56.71 430.33Z" fill="#00ffff" fill-opacity="0.5"/>
<path d="M58.35 422.09A84.7 84.7 0 0 1 60.04 416.23Q140.50 442.70 62.54 475.82A84.7 84.7 0 0 1 60.43 470.31Q140.50 442.70 58.35 422.09Z" fill="#00ffff" fill-opacity="0.5"/>
<path d="M71.37 393.76A84.7 84.7 0 0 1 89.64 374.97Q140.50 442.70 75.57 497.09A84.7 84.7 0 0 1 62.54 475.82Q140.50 442.70 71.37 393.76Z" fill="#00ffff" fill-opacity="0.5"/>
<path d="M164.84 361.57A84.7 84.7 0 0 1 175.36 365.50Q140.50 442.70 82.93 504.82A84.7 84.7 0 0 1 75.57 497.09Q140.50 442.70 164.84 361.57Z" fill="#00ffff" fill-opacity="0.5"/>
<path d="M197.07 379.66A84.7 84.7 0 0 1 206.97 390.20Q140.50 442.70 93.75 513.33A84.7 84.7 0 0 1 82.93 504.82Q140.50 442.70 197.07 379.66Z" fill="#00ffff" fill-opacity="0.5"/>
<path d="M58.04 423.36A84.7 84.7 0 0 1 58.35 422.09Q140.50 442.70 57.08 457.39A84.7 84.7 0 0 1 56.84 455.95Q140.50 442.70 58.04 423.36Z" fill="#ff00ff" fill-opacity="0.5"/>
<path d="M68.91 397.44A84.7 84.7 0 0 1 71.37 393.76Q140.50 442.70 58.07 462.16A84.7 84.7 0 0 1 57.08 457.39Q140.50 442.70 68.91 397.44Z" fill="#ff00ff" fill-opacity="0.5"/>
<path d="M163.42 361.16A84.7 84.7 0 0 1 164.84 361.57Q140.50 442.70 58.45 463.74A84.7 84.7 0 0 1 58.07 462.16Q140.50 442.70 163.42 361.16Z" fill="#ff00ff" fill-opacity="0.5"/>
<path d="M194.60 377.53A84.7 84.7 0 0 1 197.07 379.66Q140.50 442.70 59.42 467.18A84.7 84.7 0 0 1 58.45 463.74Q140.50 442.70 194.60 377.53Z" fill="#ff00ff" fill-opacity="0.5"/>
<path d="M68.13 398.70A84.7 84.7 0 0 1 68.91 397.44Q140.50 442.70 56.45 453.17A84.7 84.7 0 0 1 56.28 451.70Q140.50 442.70 68.13 398.70Z" fill="#f5deb3" fill-opacity="0.5"/>
<path d="M193.57 376.69A84.7 84.7 0 0 1 194.60 377.53Q140.50 442.70 56.62 454.49A84.7 84.7 0 0 1 56.45 453.17Q140.50 442.70 193.57 376.69Z" fill="#f5deb3" fill-opacity="0.5"/>
<path d="M67.52 399.71A84.7 84.7 0 0 1 68.13 398.70Q140.50 442.70 56.15 450.38A84.7 84.7 0 0 1 56.05 449.20Q140.50 442.70 67.52 399.71Z" fill="#fa8072" fill-opacity="0.5"/>
<path d="M230.21 449.92A90.0 90.0 0 0 1 217.65 489.05L214.47 487.15A86.3 86.3 0 0 0 226.52 449.62Z" fill="#d2691e"/>
<path d="M216.82 490.39A90.0 90.0 0 0 1 211.90 497.49L208.97 495.24A86.3 86.3 0 0 0 213.69 488.43Z" fill="#4682b4"/>
<path d="M210.93 498.73A90.0 90.0 0 0 1 92.14 518.61L94.13 515.48A86.3 86.3 0 0 0 208.04 496.42Z" fill="#228b22"/>
<path d="M90.83 517.75A90.0 90.0 0 0 1 54.67 469.76L58.19 468.65A86.3 86.3 0 0 0 92.87 514.66Z" fill="#00ffff"/>
<path d="M54.34 468.71A90.0 90.0 0 0 1 51.61 456.78L55.26 456.20A86.3 86.3 0 0 0 57.88 467.64Z" fill="#ff00ff"/>
<path d="M51.38 455.23A90.0 90.0 0 0 1 51.01 452.26L54.69 451.87A86.3 86.3 0 0 0 55.04 454.71Z" fill="#f5deb3"/>
<path d="M50.87 450.86A90.0 90.0 0 0 1 50.77 449.60L54.45 449.32A86.3 86.3 0 0 0 54.56 450.52Z" fill="#fa8072"/>
<path d="M50.87 434.54A90.0 90.0 0 0 1 51.27 430.95L54.94 431.44A86.3 86.3 0 0 0 54.56 434.88Z" fill="#d2691e"/>
<path d="M51.47 429.55A90.0 90.0 0 0 1 52.57 423.53L56.18 424.32A86.3 86.3 0 0 0 55.13 430.09Z" fill="#4682b4"/>
<path d="M52.88 422.15A90.0 90.0 0 0 1 62.17 398.38L65.39 400.20A86.3 86.3 0 0 0 56.48 422.99Z" fill="#228b22"/>
<path d="M62.95 397.02A90.0 90.0 0 0 1 163.34 355.65L162.40 359.22A86.3 86.3 0 0 0 66.14 398.90Z" fill="#00ffff"/>
<path d="M164.85 356.06A90.0 90.0 0 0 1 195.66 371.59L193.39 374.51A86.3 86.3 0 0 0 163.85 359.62Z" fill="#ff00ff"/>
<path d="M196.89 372.56A90.0 90.0 0 0 1 230.10 434.23L226.42 434.58A86.3 86.3 0 0 0 194.58 375.44Z" fill="#f5deb3"/>
<path d="M230.41 449.93A90.2 90.2 0 0 1 217.82 489.16M230.41 449.93L232.00 450.06M229.85 455.07L230.74 455.19M228.99 460.16L229.88 460.33M227.85 465.19L229.40 465.59M226.42 470.15L227.28 470.43M224.71 475.02L225.55 475.35M222.72 479.79L224.18 480.45M220.46 484.43L221.26 484.85M217.95 488.94L218.72 489.40M216.99 490.50A90.2 90.2 0 0 1 212.06 497.61M216.99 490.50L218.35 491.35M214.13 494.80L214.87 495.32M211.09 498.85A90.2 90.2 0 0 1 92.04 518.77M211.09 498.85L212.34 499.85M207.76 502.80L208.43 503.40M204.21 506.55L204.85 507.18M200.46 510.09L201.52 511.28M196.50 513.41L197.06 514.11M192.37 516.50L192.88 517.23M188.06 519.34L188.90 520.70M183.60 521.94L184.03 522.73M178.99 524.28L179.37 525.09M174.26 526.34L174.86 527.83M169.42 528.14L169.71 528.99M164.48 529.65L164.72 530.52M159.47 530.88L159.81 532.45M154.39 531.82L154.53 532.71M149.27 532.47L149.36 533.37M144.12 532.83L144.18 534.43M138.96 532.89L138.94 533.79M133.80 532.65L133.73 533.55M128.66 532.12L128.45 533.71M123.57 531.30L123.40 532.18M118.53 530.18L118.31 531.06M113.56 528.78L113.08 530.31M108.68 527.10L108.36 527.94M103.90 525.14L103.53 525.96M99.24 522.91L98.51 524.33M94.72 520.42L94.26 521.19M90.72 517.92A90.2 90.2 0 0 1 54.47 469.82M90.72 517.92L89.83 519.25M86.49 514.94L85.95 515.67M82.45 511.74L81.87 512.43M78.59 508.30L77.50 509.47M74.94 504.65L74.29 505.27M71.50 500.80L70.82 501.38M68.29 496.76L67.01 497.72M65.32 492.54L64.57 493.03M62.59 488.15L61.81 488.61M60.12 483.62L58.69 484.35M57.91 478.96L57.08 479.32M55.97 474.17L55.12 474.48M54.15 468.77A90.2 90.2 0 0 1 51.41 456.81M54.15 468.77L52.62 469.23M52.80 463.79L51.92 464.00M51.74 458.74L50.85 458.90M51.18 455.25A90.2 90.2 0 0 1 50.81 452.29M51.18 455.25L49.59 455.48M50.67 450.88A90.2 90.2 0 0 1 50.57 449.62M50.67 450.88L49.08 451.02M50.67 434.52A90.2 90.2 0 0 1 51.07 430.93M50.67 434.52L49.08 434.38M51.27 429.52A90.2 90.2 0 0 1 52.37 423.48M51.27 429.52L49.68 429.29M52.17 424.44L51.29 424.26M52.68 422.10A90.2 90.2 0 0 1 61.99 398.28M52.68 422.10L51.13 421.74M54.01 417.11L53.14 416.86M55.61 412.21L54.76 411.90M57.50 407.40L56.02 406.77M59.65 402.71L58.84 402.31M62.78 396.92A90.2 90.2 0 0 1 163.39 355.45M62.78 396.92L61.40 396.11M65.53 392.55L64.78 392.05M68.52 388.34L67.80 387.80M71.75 384.31L70.53 383.28M75.20 380.47L74.55 379.85M78.87 376.84L78.25 376.18M82.74 373.42L81.71 372.19M86.80 370.23L86.26 369.51M91.03 367.28L90.54 366.52M95.43 364.57L94.63 363.18M99.97 362.12L99.57 361.31M104.65 359.93L104.29 359.11M109.44 358.02L108.89 356.51M114.34 356.38L114.08 355.52M119.32 355.02L119.11 354.15M124.37 353.95L124.09 352.38M129.48 353.18L129.37 352.28M134.62 352.69L134.56 351.79M139.78 352.50L139.76 350.90M144.94 352.61L144.98 351.71M150.09 353.01L150.18 352.12M155.20 353.71L155.46 352.13M160.27 354.69L160.47 353.81M164.91 355.87A90.2 90.2 0 0 1 195.78 371.43M164.91 355.87L165.34 354.32M169.84 357.40L170.13 356.55M174.67 359.22L175.01 358.39M179.39 361.31L180.08 359.87M183.98 363.67L184.42 362.88M188.43 366.29L188.91 365.53M192.73 369.16L193.65 367.85M197.02 372.40A90.2 90.2 0 0 1 230.30 434.21M197.02 372.40L198.02 371.16M200.95 375.75L201.55 375.08M204.68 379.32L205.32 378.69M208.20 383.10L209.40 382.04M211.50 387.07L212.21 386.51M214.57 391.22L215.31 390.71M217.39 395.54L218.76 394.71M219.96 400.02L220.76 399.59M222.28 404.64L223.09 404.26M224.32 409.38L225.81 408.79M226.09 414.23L226.94 413.94M227.58 419.17L228.45 418.94M228.78 424.19L230.35 423.86M229.70 429.27L230.59 429.14" fill="none" stroke="#000" stroke-width="0.6"/>
<g fill="#111"><text x="234.50" y="450.26" font-size="3.9" class="n" text-anchor="middle" transform="rotate(-85.4 234.50 450.26)">0</text><text x="231.82" y="466.22" font-size="3.9" class="n" text-anchor="middle" transform="rotate(-75.6 231.82 466.22)">0.06</text><text x="226.46" y="481.48" font-size="3.9" class="n" text-anchor="middle" transform="rotate(-65.7 226.46 481.48)">0.12</text><text x="220.47" y="492.67" font-size="3.9" class="n" text-anchor="middle" transform="rotate(-58.0 220.47 492.67)">0</text><text x="214.30" y="501.40" font-size="3.9" class="n" text-anchor="middle" transform="rotate(-51.5 214.30 501.40)">0</text><text x="203.18" y="513.15" font-size="3.9" class="n" text-anchor="middle" transform="rotate(-41.7 203.18 513.15)">0.06</text><text x="190.22" y="522.83" font-size="3.9" class="n" text-anchor="middle" transform="rotate(-31.8 190.22 522.83)">0.12</text><text x="175.79" y="530.15" font-size="3.9" class="n" text-anchor="middle" transform="rotate(-22.0 175.79 530.15)">0.18</text><text x="160.33" y="534.89" font-size="3.9" class="n" text-anchor="middle" transform="rotate(-12.1 160.33 534.89)">0.24</text><text x="144.28" y="536.92" font-size="3.9" class="n" text-anchor="middle" transform="rotate(-2.3 144.28 536.92)">0.3</text><text x="128.13" y="536.18" font-size="3.9" class="n" text-anchor="middle" transform="rotate(7.5 128.13 536.18)">0.36</text><text x="112.33" y="532.69" font-size="3.9" class="n" text-anchor="middle" transform="rotate(17.4 112.33 532.69)">0.42</text><text x="97.37" y="526.56" font-size="3.9" class="n" text-anchor="middle" transform="rotate(27.2 97.37 526.56)">0.48</text><text x="88.45" y="521.34" font-size="3.9" class="n" text-anchor="middle" transform="rotate(33.5 88.45 521.34)">0</text><text x="75.78" y="511.28" font-size="3.9" class="n" text-anchor="middle" transform="rotate(43.3 75.78 511.28)">0.06</text><text x="65.01" y="499.21" font-size="3.9" class="n" text-anchor="middle" transform="rotate(53.2 65.01 499.21)">0.12</text><text x="56.46" y="485.48" font-size="3.9" class="n" text-anchor="middle" transform="rotate(63.0 56.46 485.48)">0.18</text><text x="50.22" y="469.96" font-size="3.9" class="n" text-anchor="middle" transform="rotate(73.2 50.22 469.96)">0</text><text x="47.12" y="455.82" font-size="3.9" class="n" text-anchor="middle" transform="rotate(82.0 47.12 455.82)">0</text><text x="46.59" y="451.25" font-size="3.9" class="n" text-anchor="middle" transform="rotate(84.8 46.59 451.25)">0</text><text x="47.78" y="434.26" font-size="3.9" class="n" text-anchor="middle" transform="rotate(275.2 47.78 434.26)">0</text><text x="48.40" y="429.10" font-size="3.9" class="n" text-anchor="middle" transform="rotate(278.4 48.40 429.10)">0</text><text x="49.86" y="421.44" font-size="3.9" class="n" text-anchor="middle" transform="rotate(283.2 49.86 421.44)">0</text><text x="54.83" y="406.26" font-size="3.9" class="n" text-anchor="middle" transform="rotate(293.0 54.83 406.26)">0.06</text><text x="60.28" y="395.45" font-size="3.9" class="n" text-anchor="middle" transform="rotate(300.5 60.28 395.45)">0</text><text x="69.54" y="382.43" font-size="3.9" class="n" text-anchor="middle" transform="rotate(310.3 69.54 382.43)">0.06</text><text x="80.88" y="371.19" font-size="3.9" class="n" text-anchor="middle" transform="rotate(320.2 80.88 371.19)">0.12</text><text x="93.98" y="362.06" font-size="3.9" class="n" text-anchor="middle" transform="rotate(330.0 93.98 362.06)">0.18</text><text x="108.44" y="355.29" font-size="3.9" class="n" text-anchor="middle" transform="rotate(339.9 108.44 355.29)">0.24</text><text x="123.85" y="351.10" font-size="3.9" class="n" text-anchor="middle" transform="rotate(349.7 123.85 351.10)">0.3</text><text x="139.75" y="349.60" font-size="3.9" class="n" text-anchor="middle" transform="rotate(359.5 139.75 349.60)">0.36</text><text x="155.67" y="350.84" font-size="3.9" class="n" text-anchor="middle" transform="rotate(9.4 155.67 350.84)">0.42</text><text x="165.69" y="353.07" font-size="3.9" class="n" text-anchor="middle" transform="rotate(15.7 165.69 353.07)">0</text><text x="180.64" y="358.70" font-size="3.9" class="n" text-anchor="middle" transform="rotate(25.5 180.64 358.70)">0.06</text><text x="194.40" y="366.79" font-size="3.9" class="n" text-anchor="middle" transform="rotate(35.4 194.40 366.79)">0.12</text><text x="198.84" y="370.14" font-size="3.9" class="n" text-anchor="middle" transform="rotate(38.8 198.84 370.14)">0</text><text x="210.38" y="381.18" font-size="3.9" class="n" text-anchor="middle" transform="rotate(48.6 210.38 381.18)">0.06</text><text x="219.86" y="394.03" font-size="3.9" class="n" text-anchor="middle" transform="rotate(58.5 219.86 394.03)">0.12</text><text x="227.01" y="408.31" font-size="3.9" class="n" text-anchor="middle" transform="rotate(68.3 227.01 408.31)">0.18</text><text x="231.62" y="423.60" font-size="3.9" class="n" text-anchor="middle" transform="rotate(78.2 231.62 423.60)">0.24</text></g>
<text x="239.71" y="476.75" font-size="6.3" class="n" text-anchor="middle" transform="rotate(17.8 239.71 474.55)">IGHV1</text>
<text x="226.12" y="504.29" font-size="6.3" class="n" text-anchor="middle" transform="rotate(34.8 226.12 502.09)">IGHV2</text>
<text x="157.70" y="547.67" font-size="6.3" class="n" text-anchor="middle" transform="rotate(80.5 157.70 545.47)">IGHV3</text>
<text x="57.28" y="507.61" font-size="6.3" class="n" text-anchor="middle" transform="rotate(323.0 57.28 505.41)">IGHV4</text>
<text x="38.93" y="468.16" font-size="6.3" class="n" text-anchor="middle" transform="rotate(347.1 38.93 465.96)">IGHV5</text>
<text x="37.09" y="457.69" font-size="6.3" class="n" text-anchor="middle" transform="rotate(352.9 37.09 455.49)">IGHV6</text>
<text x="36.67" y="453.62" font-size="6.3" class="n" text-anchor="middle" transform="rotate(355.2 36.67 451.42)">IGHV7</text>
<text x="36.94" y="433.38" font-size="6.3" class="n" text-anchor="middle" transform="rotate(366.4 36.94 431.18)">IGHJ1</text>
<text x="38.00" y="426.18" font-size="6.3" class="n" text-anchor="middle" transform="rotate(370.4 38.00 423.98)">IGHJ2</text>
<text x="43.45" y="406.96" font-size="6.3" class="n" text-anchor="middle" transform="rotate(381.4 43.45 404.76)">IGHJ3</text>
<text x="100.79" y="348.56" font-size="6.3" class="n" text-anchor="middle" transform="rotate(427.6 100.79 346.36)">IGHJ4</text>
<text x="187.40" y="351.85" font-size="6.3" class="n" text-anchor="middle" transform="rotate(-63.2 187.40 349.65)">IGHJ5</text>
<text x="232.25" y="395.50" font-size="6.3" class="n" text-anchor="middle" transform="rotate(-28.3 232.25 393.30)">IGHJ6</text>
<path d="M282.54 434.41A84.7 84.7 0 0 1 282.60 433.97Q366.70 444.00 438.79 488.47A84.7 84.7 0 0 1 438.53 488.88Q366.70 444.00 282.54 434.41Z" fill="#d2691e" fill-opacity="0.5"/>
<path d="M283.51 428.07A84.7 84.7 0 0 1 283.70 427.11Q366.70 444.00 439.29 487.65A84.7 84.7 0 0 1 438.79 488.47Q366.70 444.00 283.51 428.07Z" fill="#d2691e" fill-opacity="0.5"/>
<path d="M290.27 407.49A84.7 84.7 0 0 1 291.91 404.24Q366.70 444.00 441.28 484.14A84.7 84.7 0 0 1 439.29 487.65Q366.70 444.00 290.27 407.49Z" fill="#d2691e" fill-opacity="0.5"/>
<path d="M369.84 359.36A84.7 84.7 0 0 1 384.45 361.18Q366.70 444.00 447.54 469.29A84.7 84.7 0 0 1 441.28 484.14Q366.70 444.00 369.84 359.36Z" fill="#d2691e" fill-opacity="0.5"/>
<path d="M407.76 369.92A84.7 84.7 0 0 1 412.83 372.96Q366.70 444.00 449.23 463.06A84.7 84.7 0 0 1 447.54 469.29Q366.70 444.00 407.76 369.92Z" fill="#d2691e" fill-opacity="0.5"/>
<path d="M449.26 425.10A84.7 84.7 0 0 1 451.04 436.18Q366.70 444.00 451.13 450.79A84.7 84.7 0 0 1 449.23 463.06Q366.70 444.00 449.26 425.10Z" fill="#d2691e" fill-opacity="0.5"/>
<path d="M282.51 434.71A84.7 84.7 0 0 1 282.54 434.41Q366.70 444.00 434.08 495.32A84.7 84.7 0 0 1 433.90 495.56Q366.70 444.00 282.51 434.71Z" fill="#4682b4" fill-opacity="0.5"/>
<path d="M283.42 428.55A84.7 84.7 0 0 1 283.51 428.07Q366.70 444.00 434.35 494.96A84.7 84.7 0 0 1 434.08 495.32Q366.70 444.00 283.42 428.55Z" fill="#4682b4" fill-opacity="0.5"/>
<path d="M290.02 408.02A84.7 84.7 0 0 1 290.27 407.49Q366.70 444.00 434.72 494.48A84.7 84.7 0 0 1 434.35 494.96Q366.70 444.00 290.02 408.02Z" fill="#4682b4" fill-opacity="0.5"/>
<path d="M366.60 359.30A84.7 84.7 0 0 1 369.84 359.36Q366.70 444.00 436.65 491.77A84.7 84.7 0 0 1 434.72 494.48Q366.70 444.00 366.60 359.30Z" fill="#4682b4" fill-opacity="0.5"/>
<path d="M407.12 369.56A84.7 84.7 0 0 1 407.76 369.92Q366.70 444.00 437.07 491.14A84.7 84.7 0 0 1 436.65 491.77Q366.70 444.00 407.12 369.56Z" fill="#4682b4" fill-opacity="0.5"/>
<path d="M449.00 423.96A84.7 84.7 0 0 1 449.26 425.10Q366.70 444.00 437.74 490.13A84.7 84.7 0 0 1 437.07 491.14Q366.70 444.00 449.00 423.96Z" fill="#4682b4" fill-opacity="0.5"/>
<path d="M282.40 435.73A84.7 84.7 0 0 1 282.51 434.71Q366.70 444.00 333.85 522.07A84.7 84.7 0 0 1 332.93 521.67Q366.70 444.00 282.40 435.73Z" fill="#228b22" fill-opacity="0.5"/>
<path d="M283.06 430.62A84.7 84.7 0 0 1 283.42 428.55Q366.70 444.00 335.58 522.77A84.7 84.7 0 0 1 333.85 522.07Q366.70 444.00 283.06 430.62Z" fill="#228b22" fill-opacity="0.5"/>
<path d="M285.89 418.62A84.7 84.7 0 0 1 290.02 408.02Q366.70 444.00 346.22 526.19A84.7 84.7 0 0 1 335.58 522.77Q366.70 444.00 285.89 418.62Z" fill="#228b22" fill-opacity="0.5"/>
<path d="M315.41 376.59A84.7 84.7 0 0 1 366.60 359.30Q366.70 444.00 398.70 522.42A84.7 84.7 0 0 1 346.22 526.19Q366.70 444.00 315.41 376.59Z" fill="#228b22" fill-opacity="0.5"/>
<path d="M396.36 364.66A84.7 84.7 0 0 1 407.12 369.56Q366.70 444.00 409.00 517.38A84.7 84.7 0 0 1 398.70 522.42Q366.70 444.00 396.36 364.66Z" fill="#228b22" fill-opacity="0.5"/>
<path d="M435.59 394.72A84.7 84.7 0 0 1 449.00 423.96Q366.70 444.00 432.99 496.73A84.7 84.7 0 0 1 409.00 517.38Q366.70 444.00 435.59 394.72Z" fill="#228b22" fill-opacity="0.5"/>
<path d="M282.35 436.32A84.7 84.7 0 0 1 282.40 435.73Q366.70 444.00 285.74 468.90A84.7 84.7 0 0 1 285.57 468.34Q366.70 444.00 282.35 436.32Z" fill="#00ffff" fill-opacity="0.5"/>
<path d="M282.84 432.07A84.7 84.7 0 0 1 283.06 430.62Q366.70 444.00 286.14 470.16A84.7 84.7 0 0 1 285.74 468.90Q366.70 444.00 282.84 432.07Z" fill="#00ffff" fill-opacity="0.5"/>
<path d="M284.30 424.39A84.7 84.7 0 0 1 285.89 418.62Q366.70 444.00 288.19 475.79A84.7 84.7 0 0 1 286.14 470.16Q366.70 444.00 284.30 424.39Z" fill="#00ffff" fill-opacity="0.5"/>
<path d="M295.82 397.64A84.7 84.7 0 0 1 315.41 376.59Q366.70 444.00 303.21 500.06A84.7 84.7 0 0 1 288.19 475.79Q366.70 444.00 295.82 397.64Z" fill="#00ffff" fill-opacity="0.5"/>
<path d="M387.62 361.92A84.7 84.7 0 0 1 396.36 364.66Q366.70 444.00 309.57 506.53A84.7 84.7 0 0 1 303.21 500.06Q366.70 444.00 387.62 361.92Z" fill="#00ffff" fill-opacity="0.5"/>
<path d="M417.28 376.06A84.7 84.7 0 0 1 435.59 394.72Q366.70 444.00 331.44 521.01A84.7 84.7 0 0 1 309.57 506.53Q366.70 444.00 417.28 376.06Z" fill="#00ffff" fill-opacity="0.5"/>
<path d="M284.01 425.67A84.7 84.7 0 0 1 284.30 424.39Q366.70 444.00 283.34 458.98A84.7 84.7 0 0 1 283.11 457.69Q366.70 444.00 284.01 425.67Z" fill="#ff00ff" fill-opacity="0.5"/>
<path d="M293.87 400.76A84.7 84.7 0 0 1 295.82 397.64Q366.70 444.00 284.06 462.55A84.7 84.7 0 0 1 283.34 458.98Q366.70 444.00 293.87 400.76Z" fill="#ff00ff" fill-opacity="0.5"/>
<path d="M385.90 361.50A84.7 84.7 0 0 1 387.62 361.92Q366.70 444.00 284.46 464.25A84.7 84.7 0 0 1 284.06 462.55Q366.70 444.00 385.90 361.50Z" fill="#ff00ff" fill-opacity="0.5"/>
<path d="M414.91 374.36A84.7 84.7 0 0 1 417.28 376.06Q366.70 444.00 285.20 467.06A84.7 84.7 0 0 1 284.46 464.25Q366.70 444.00 414.91 374.36Z" fill="#ff00ff" fill-opacity="0.5"/>
<path d="M293.27 401.78A84.7 84.7 0 0 1 293.87 400.76Q366.70 444.00 282.75 455.28A84.7 84.7 0 0 1 282.60 454.03Q366.70 444.00 293.27 401.78Z" fill="#f5deb3" fill-opacity="0.5"/>
<path d="M414.06 373.78A84.7 84.7 0 0 1 414.91 374.36Q366.70 444.00 282.91 456.37A84.7 84.7 0 0 1 282.75 455.28Q366.70 444.00 414.06 373.78Z" fill="#f5deb3" fill-opacity="0.5"/>
<path d="M292.62 402.94A84.7 84.7 0 0 1 293.27 401.78Q366.70 444.00 282.42 452.41A84.7 84.7 0 0 1 282.30 451.09Q366.70 444.00 292.62 402.94Z" fill="#fa8072" fill-opacity="0.5"/>
<path d="M456.41 451.22A90.0 90.0 0 0 1 443.02 491.69L439.89 489.73A86.3 86.3 0 0 0 452.72 450.92Z" fill="#d2691e"/>
<path d="M442.18 493.02A90.0 90.0 0 0 1 438.10 498.79L435.17 496.54A86.3 86.3 0 0 0 439.08 491.00Z" fill="#4682b4"/>
<path d="M437.13 500.03A90.0 90.0 0 0 1 330.81 526.54L332.29 523.14A86.3 86.3 0 0 0 434.24 497.72Z" fill="#228b22"/>
<path d="M329.23 525.83A90.0 90.0 0 0 1 280.50 469.86L284.04 468.80A86.3 86.3 0 0 0 330.77 522.47Z" fill="#00ffff"/>
<path d="M280.10 468.51A90.0 90.0 0 0 1 277.88 458.54L281.53 457.95A86.3 86.3 0 0 0 283.66 467.50Z" fill="#ff00ff"/>
<path d="M277.67 457.15A90.0 90.0 0 0 1 277.33 454.66L281.01 454.22A86.3 86.3 0 0 0 281.33 456.61Z" fill="#f5deb3"/>
<path d="M277.14 452.94A90.0 90.0 0 0 1 277.02 451.53L280.70 451.22A86.3 86.3 0 0 0 280.83 452.57Z" fill="#fa8072"/>
<path d="M277.07 435.84A90.0 90.0 0 0 1 277.33 433.34L281.01 433.78A86.3 86.3 0 0 0 280.76 436.18Z" fill="#d2691e"/>
<path d="M277.60 431.32A90.0 90.0 0 0 1 278.51 426.06L282.13 426.79A86.3 86.3 0 0 0 281.26 431.84Z" fill="#4682b4"/>
<path d="M278.83 424.52A90.0 90.0 0 0 1 287.23 401.75L290.50 403.48A86.3 86.3 0 0 0 282.45 425.32Z" fill="#228b22"/>
<path d="M287.98 400.37A90.0 90.0 0 0 1 385.57 356.00L384.79 359.62A86.3 86.3 0 0 0 291.22 402.16Z" fill="#00ffff"/>
<path d="M387.10 356.34A90.0 90.0 0 0 1 415.72 368.52L413.70 371.62A86.3 86.3 0 0 0 386.26 359.95Z" fill="#ff00ff"/>
<path d="M417.03 369.39A90.0 90.0 0 0 1 456.32 435.69L452.63 436.03A86.3 86.3 0 0 0 414.96 372.45Z" fill="#f5deb3"/>
<path d="M456.61 451.23A90.2 90.2 0 0 1 443.19 491.80M456.61 451.23L458.20 451.36M456.05 456.37L456.94 456.49M455.19 461.46L456.08 461.63M454.05 466.49L455.60 466.89M452.62 471.45L453.48 471.73M450.91 476.32L451.75 476.65M448.92 481.09L450.38 481.75M446.66 485.73L447.46 486.15M444.15 490.24L444.92 490.70M442.35 493.13A90.2 90.2 0 0 1 438.26 498.91M442.35 493.13L443.69 494.00M439.41 497.37L440.14 497.91M437.29 500.15A90.2 90.2 0 0 1 330.73 526.72M437.29 500.15L438.54 501.15M433.96 504.10L434.63 504.70M430.41 507.85L431.05 508.48M426.66 511.39L427.72 512.58M422.70 514.71L423.26 515.41M418.57 517.80L419.08 518.53M414.26 520.64L415.10 522.00M409.80 523.24L410.23 524.03M405.19 525.58L405.57 526.39M400.46 527.64L401.06 529.13M395.62 529.44L395.91 530.29M390.68 530.95L390.92 531.82M385.67 532.18L386.01 533.75M380.59 533.12L380.73 534.01M375.47 533.77L375.56 534.67M370.32 534.13L370.38 535.73M365.16 534.19L365.14 535.09M360.00 533.95L359.93 534.85M354.86 533.42L354.65 535.01M349.77 532.60L349.60 533.48M344.73 531.48L344.51 532.36M339.76 530.08L339.28 531.61M334.88 528.40L334.56 529.24M329.15 526.01A90.2 90.2 0 0 1 280.30 469.92M329.15 526.01L328.49 527.47M324.52 523.73L324.10 524.53M320.03 521.19L319.56 521.96M315.69 518.39L314.78 519.71M311.52 515.35L310.96 516.06M307.52 512.07L306.93 512.75M303.73 508.58L302.61 509.72M300.13 504.87L299.47 505.48M296.76 500.96L296.06 501.53M293.62 496.87L292.32 497.80M290.71 492.60L289.95 493.08M288.05 488.17L287.27 488.61M285.66 483.60L284.22 484.30M283.52 478.90L282.69 479.24M281.66 474.08L280.81 474.38M279.91 468.56A90.2 90.2 0 0 1 277.69 458.58M279.91 468.56L278.37 469.00M278.64 463.55L277.77 463.75M277.47 457.18A90.2 90.2 0 0 1 277.13 454.68M277.47 457.18L275.88 457.41M276.95 452.96A90.2 90.2 0 0 1 276.82 451.55M276.95 452.96L275.35 453.12M276.87 435.82A90.2 90.2 0 0 1 277.13 433.32M276.87 435.82L275.28 435.68M277.40 431.29A90.2 90.2 0 0 1 278.31 426.02M277.40 431.29L275.82 431.07M278.27 426.20L277.39 426.02M278.64 424.48A90.2 90.2 0 0 1 287.06 401.65M278.64 424.48L277.08 424.13M279.90 419.47L279.03 419.23M281.45 414.54L280.59 414.25M283.27 409.71L281.79 409.11M285.37 405.00L284.56 404.61M287.81 400.27A90.2 90.2 0 0 1 385.61 355.80M287.81 400.27L286.41 399.49M290.44 395.83L289.68 395.35M293.32 391.54L292.59 391.02M296.44 387.43L295.20 386.43M299.79 383.50L299.13 382.90M303.37 379.78L302.73 379.13M307.14 376.26L306.09 375.06M311.12 372.96L310.56 372.25M315.27 369.90L314.76 369.16M319.60 367.08L318.76 365.71M324.08 364.51L323.65 363.71M328.69 362.20L328.31 361.38M333.44 360.16L332.85 358.67M338.29 358.39L338.00 357.54M343.23 356.91L343.00 356.04M348.25 355.71L347.93 354.14M353.34 354.80L353.20 353.91M358.46 354.18L358.38 353.28M363.61 353.85L363.56 352.25M368.78 353.82L368.80 352.92M373.93 354.09L374.01 353.19M379.07 354.65L379.29 353.07M384.16 355.51L384.33 354.62M387.14 356.15A90.2 90.2 0 0 1 415.83 368.35M387.14 356.15L387.51 354.59M392.14 357.46L392.39 356.60M397.05 359.06L397.35 358.21M401.86 360.93L402.48 359.46M406.55 363.08L406.95 362.27M411.12 365.49L411.56 364.71M415.54 368.16L416.40 366.82M417.14 369.22A90.2 90.2 0 0 1 456.51 435.67M417.14 369.22L418.03 367.89M421.34 372.23L421.88 371.51M425.35 375.47L425.94 374.79M429.18 378.94L430.28 377.79M432.80 382.62L433.46 382.01M436.20 386.50L436.89 385.93M439.38 390.58L440.67 389.63M442.31 394.82L443.07 394.33M445.00 399.23L445.79 398.78M447.44 403.78L448.87 403.07M449.61 408.47L450.43 408.11M451.50 413.27L452.35 412.96M453.12 418.17L454.66 417.71M454.46 423.16L455.33 422.95M455.51 428.21L456.39 428.06M456.27 433.32L457.85 433.13" fill="none" stroke="#000" stroke-width="0.6"/>
<g fill="#111"><text x="460.70" y="451.56" font-size="3.9" class="n" text-anchor="middle" transform="rotate(-85.4 460.70 451.56)">0</text><text x="458.02" y="467.52" font-size="3.9" class="n" text-anchor="middle" transform="rotate(-75.6 458.02 467.52)">0.06</text><text x="452.66" y="482.78" font-size="3.9" class="n" text-anchor="middle" transform="rotate(-65.7 452.66 482.78)">0.12</text><text x="445.79" y="495.36" font-size="3.9" class="n" text-anchor="middle" transform="rotate(-57.0 445.79 495.36)">0</text><text x="440.50" y="502.70" font-size="3.9" class="n" text-anchor="middle" transform="rotate(-51.5 440.50 502.70)">0</text><text x="429.38" y="514.45" font-size="3.9" class="n" text-anchor="middle" transform="rotate(-41.7 429.38 514.45)">0.06</text><text x="416.42" y="524.13" font-size="3.9" class="n" text-anchor="middle" transform="rotate(-31.8 416.42 524.13)">0.12</text><text x="401.99" y="531.45" font-size="3.9" class="n" text-anchor="middle" transform="rotate(-22.0 401.99 531.45)">0.18</text><text x="386.53" y="536.19" font-size="3.9" class="n" text-anchor="middle" transform="rotate(-12.1 386.53 536.19)">0.24</text><text x="370.48" y="538.22" font-size="3.9" class="n" text-anchor="middle" transform="rotate(-2.3 370.48 538.22)">0.3</text><text x="354.33" y="537.48" font-size="3.9" class="n" text-anchor="middle" transform="rotate(7.5 354.33 537.48)">0.36</text><text x="338.53" y="533.99" font-size="3.9" class="n" text-anchor="middle" transform="rotate(17.4 338.53 533.99)">0.42</text><text x="327.44" y="529.74" font-size="3.9" class="n" text-anchor="middle" transform="rotate(24.6 327.44 529.74)">0</text><text x="313.37" y="521.77" font-size="3.9" class="n" text-anchor="middle" transform="rotate(34.4 313.37 521.77)">0.06</text><text x="300.86" y="511.51" font-size="3.9" class="n" text-anchor="middle" transform="rotate(44.3 300.86 511.51)">0.12</text><text x="290.29" y="499.27" font-size="3.9" class="n" text-anchor="middle" transform="rotate(54.1 290.29 499.27)">0.18</text><text x="281.97" y="485.40" font-size="3.9" class="n" text-anchor="middle" transform="rotate(64.0 281.97 485.40)">0.24</text><text x="275.96" y="469.68" font-size="3.9" class="n" text-anchor="middle" transform="rotate(74.2 275.96 469.68)">0</text><text x="273.41" y="457.78" font-size="3.9" class="n" text-anchor="middle" transform="rotate(81.6 273.41 457.78)">0</text><text x="272.87" y="453.37" font-size="3.9" class="n" text-anchor="middle" transform="rotate(84.3 272.87 453.37)">0</text><text x="273.98" y="435.56" font-size="3.9" class="n" text-anchor="middle" transform="rotate(275.2 273.98 435.56)">0</text><text x="274.53" y="430.88" font-size="3.9" class="n" text-anchor="middle" transform="rotate(278.1 274.53 430.88)">0</text><text x="275.81" y="423.85" font-size="3.9" class="n" text-anchor="middle" transform="rotate(282.5 275.81 423.85)">0</text><text x="280.59" y="408.61" font-size="3.9" class="n" text-anchor="middle" transform="rotate(292.3 280.59 408.61)">0.06</text><text x="285.27" y="398.86" font-size="3.9" class="n" text-anchor="middle" transform="rotate(299.0 285.27 398.86)">0</text><text x="294.18" y="385.61" font-size="3.9" class="n" text-anchor="middle" transform="rotate(308.8 294.18 385.61)">0.06</text><text x="305.23" y="374.08" font-size="3.9" class="n" text-anchor="middle" transform="rotate(318.7 305.23 374.08)">0.12</text><text x="318.08" y="364.60" font-size="3.9" class="n" text-anchor="middle" transform="rotate(328.5 318.08 364.60)">0.18</text><text x="332.37" y="357.46" font-size="3.9" class="n" text-anchor="middle" transform="rotate(338.4 332.37 357.46)">0.24</text><text x="347.66" y="352.87" font-size="3.9" class="n" text-anchor="middle" transform="rotate(348.2 347.66 352.87)">0.3</text><text x="363.52" y="350.95" font-size="3.9" class="n" text-anchor="middle" transform="rotate(358.0 363.52 350.95)">0.36</text><text x="379.46" y="351.78" font-size="3.9" class="n" text-anchor="middle" transform="rotate(7.9 379.46 351.78)">0.42</text><text x="387.80" y="353.32" font-size="3.9" class="n" text-anchor="middle" transform="rotate(13.1 387.80 353.32)">0</text><text x="402.99" y="358.26" font-size="3.9" class="n" text-anchor="middle" transform="rotate(22.9 402.99 358.26)">0.06</text><text x="417.11" y="365.73" font-size="3.9" class="n" text-anchor="middle" transform="rotate(32.8 417.11 365.73)">0.12</text><text x="418.76" y="366.82" font-size="3.9" class="n" text-anchor="middle" transform="rotate(34.0 418.76 366.82)">0</text><text x="431.19" y="376.85" font-size="3.9" class="n" text-anchor="middle" transform="rotate(43.8 431.19 376.85)">0.06</text><text x="441.71" y="388.86" font-size="3.9" class="n" text-anchor="middle" transform="rotate(53.7 441.71 388.86)">0.12</text><text x="450.03" y="402.49" font-size="3.9" class="n" text-anchor="middle" transform="rotate(63.5 450.03 402.49)">0.18</text><text x="455.90" y="417.34" font-size="3.9" class="n" text-anchor="middle" transform="rotate(73.4 455.90 417.34)">0.24</text><text x="459.15" y="432.98" font-size="3.9" class="n" text-anchor="middle" transform="rotate(83.2 459.15 432.98)">0.3</text></g>
<text x="465.63" y="478.92" font-size="6.3" class="n" text-anchor="middle" transform="rotate(18.3 465.63 476.72)">IGHV1</text>
<text x="451.79" y="506.34" font-size="6.3" class="n" text-anchor="middle" transform="rotate(35.2 451.79 504.14)">IGHV2</text>
<text x="391.91" y="547.30" font-size="6.3" class="n" text-anchor="middle" transform="rotate(76.0 391.91 545.10)">IGHV3</text>
<text x="288.12" y="514.63" font-size="6.3" class="n" text-anchor="middle" transform="rotate(318.9 288.12 512.43)">IGHV4</text>
<text x="264.99" y="468.84" font-size="6.3" class="n" text-anchor="middle" transform="rotate(347.4 264.99 466.64)">IGHV5</text>
<text x="263.42" y="459.98" font-size="6.3" class="n" text-anchor="middle" transform="rotate(352.4 263.42 457.78)">IGHV6</text>
<text x="262.94" y="455.73" font-size="6.3" class="n" text-anchor="middle" transform="rotate(354.8 262.94 453.53)">IGHV7</text>
<text x="263.07" y="435.31" font-size="6.3" class="n" text-anchor="middle" transform="rotate(366.0 263.07 433.11)">IGHJ1</text>
<text x="264.02" y="428.46" font-size="6.3" class="n" text-anchor="middle" transform="rotate(369.8 264.02 426.26)">IGHJ2</text>
<text x="268.94" y="410.13" font-size="6.3" class="n" text-anchor="middle" transform="rotate(380.2 268.94 407.93)">IGHJ3</text>
<text x="323.57" y="351.34" font-size="6.3" class="n" text-anchor="middle" transform="rotate(425.6 323.57 349.14)">IGHJ4</text>
<text x="407.50" y="350.32" font-size="6.3" class="n" text-anchor="middle" transform="rotate(-66.9 407.50 348.12)">IGHJ5</text>
<text x="456.34" y="393.08" font-size="6.3" class="n" text-anchor="middle" transform="rotate(-30.6 456.34 390.88)">IGHJ6</text>
<text x="221.6" y="357.0" font-size="12.5" textLength="56.6" lengthAdjust="spacingAndGlyphs">VH4: JH6</text>
<text x="221.9" y="375.7" font-size="13" textLength="26.8" lengthAdjust="spacingAndGlyphs">5.67</text>
<path d="M206.4 378.0L213.0 366.8L219.6 375.0Z" fill="#4472c4" stroke="#1f3864" stroke-width="0.9" stroke-linejoin="round"/>
<text x="450.4" y="358.6" font-size="12.5" textLength="56.6" lengthAdjust="spacingAndGlyphs">VH4: JH6</text>
<text x="450.7" y="377.6" font-size="13" textLength="26.7" lengthAdjust="spacingAndGlyphs">7.83</text>
<path d="M434.3 380.5L441.4 368.9L448.1 377.3Z" fill="#4472c4" stroke="#1f3864" stroke-width="0.9" stroke-linejoin="round"/>
<text x="85.4" y="577.7" font-size="20.5" textLength="108.2" lengthAdjust="spacingAndGlyphs">Advancing</text>
<text x="334.2" y="577.6" font-size="20.5" textLength="63.6" lengthAdjust="spacingAndGlyphs">Stable</text>
<ellipse cx="37.0" cy="602.9" rx="9.6" ry="8.9" fill="#e9b48e" stroke="#d2691e" stroke-width="1.5"/><text x="49.6" y="607.6" font-size="12" textLength="21.7" lengthAdjust="spacingAndGlyphs">VH1</text><ellipse cx="104.6" cy="602.9" rx="9.6" ry="8.9" fill="#a2c0da" stroke="#4682b4" stroke-width="1.5"/><text x="117.2" y="607.6" font-size="12" textLength="21.7" lengthAdjust="spacingAndGlyphs">VH2</text><ellipse cx="172.3" cy="602.9" rx="9.6" ry="8.9" fill="#90c590" stroke="#228b22" stroke-width="1.5"/><text x="184.9" y="607.6" font-size="12" textLength="21.7" lengthAdjust="spacingAndGlyphs">VH3</text><ellipse cx="239.8" cy="602.9" rx="9.6" ry="8.9" fill="#80ffff" stroke="#00ffff" stroke-width="1.5"/><text x="252.4" y="607.6" font-size="12" textLength="21.7" lengthAdjust="spacingAndGlyphs">VH4</text><ellipse cx="307.3" cy="602.9" rx="9.6" ry="8.9" fill="#ff80ff" stroke="#ff00ff" stroke-width="1.5"/><text x="319.9" y="607.6" font-size="12" textLength="21.7" lengthAdjust="spacingAndGlyphs">VH5</text><ellipse cx="375.6" cy="602.9" rx="9.6" ry="8.9" fill="#faeed9" stroke="#f5deb3" stroke-width="1.5"/><text x="388.2" y="607.6" font-size="12" textLength="21.7" lengthAdjust="spacingAndGlyphs">VH6</text><ellipse cx="442.6" cy="602.9" rx="9.6" ry="8.9" fill="#fcc0b8" stroke="#fa8072" stroke-width="1.5"/><text x="455.2" y="607.6" font-size="12" textLength="21.7" lengthAdjust="spacingAndGlyphs">VH7</text>
</svg></body></html>
